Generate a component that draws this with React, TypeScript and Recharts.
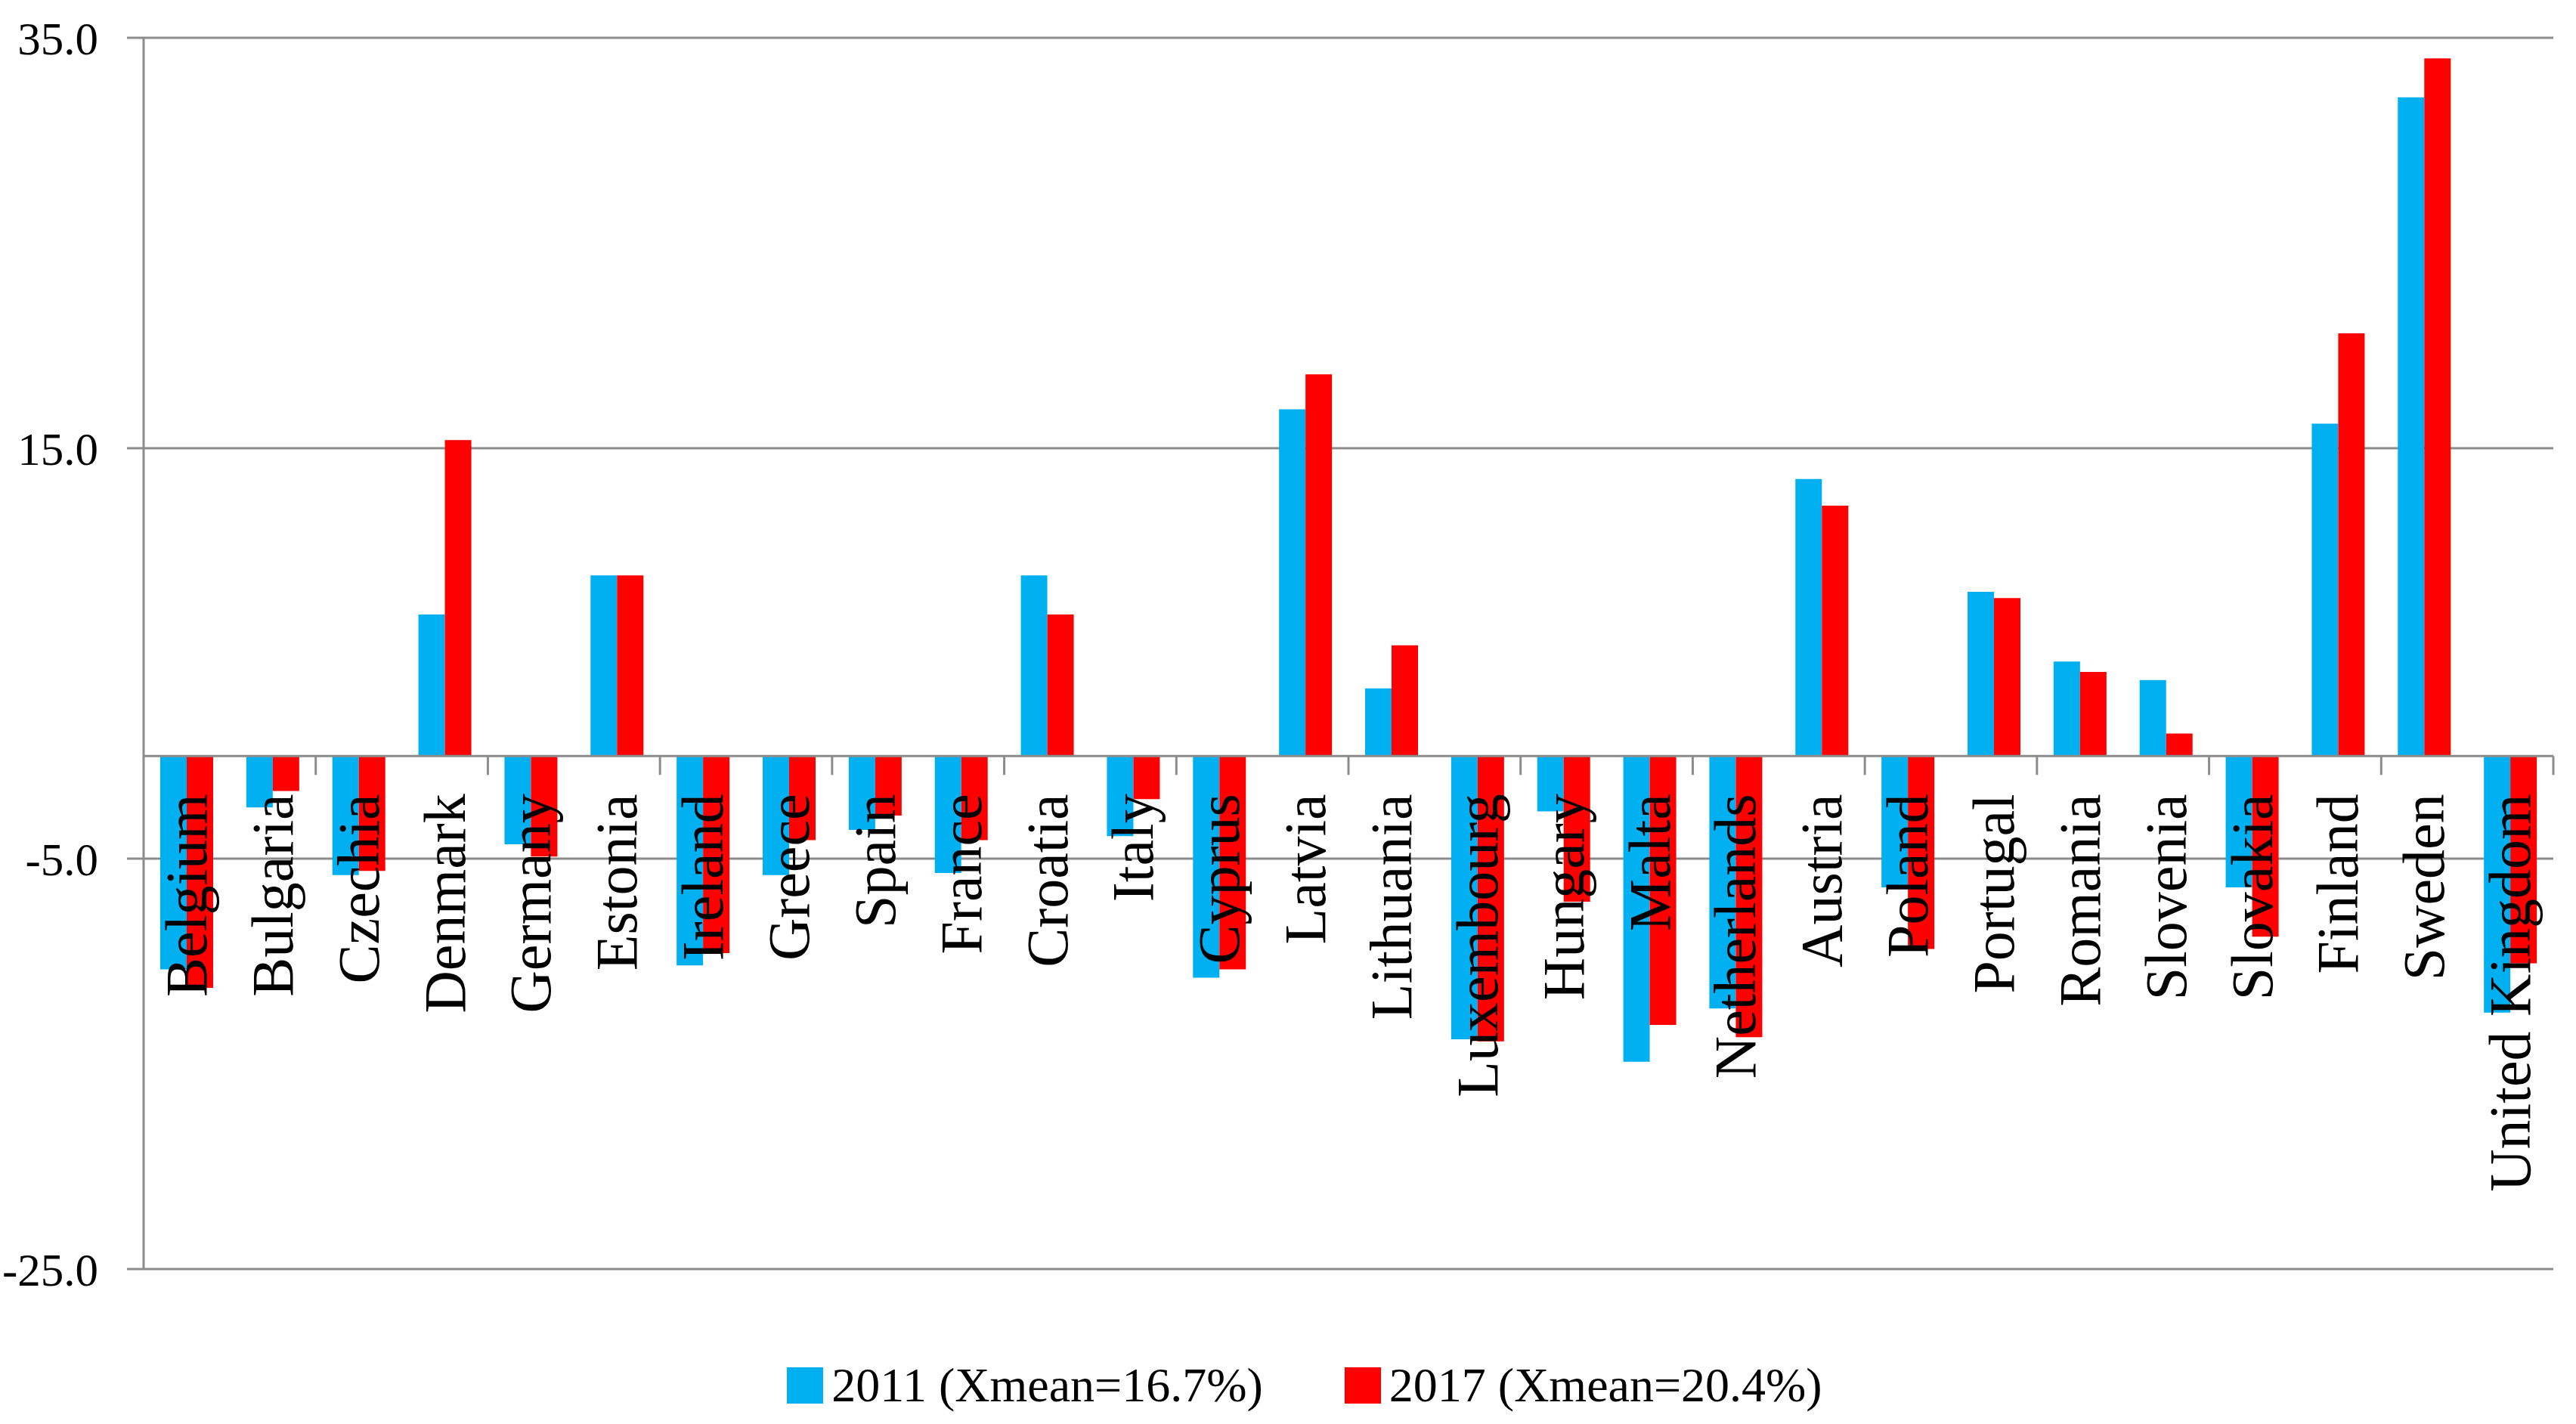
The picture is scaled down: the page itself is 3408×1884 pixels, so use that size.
import { Bar, BarChart, CartesianGrid, Legend, ReferenceLine, XAxis, YAxis } from 'recharts'

// Countries on the category axis
const countries = [
  'Belgium', 'Bulgaria', 'Czechia', 'Denmark', 'Germany', 'Estonia', 'Ireland',
  'Greece', 'Spain', 'France', 'Croatia', 'Italy', 'Cyprus', 'Latvia',
  'Lithuania', 'Luxembourg', 'Hungary', 'Malta', 'Netherlands', 'Austria',
  'Poland', 'Portugal', 'Romania', 'Slovenia', 'Slovakia', 'Finland', 'Sweden',
  'United Kingdom',
]

// Deviation from mean
const values2011 = [
  -10.4, -2.5, -5.8, 6.9, -4.3, 8.8, -10.2, -5.8, -3.6, -5.7, 8.8, -3.9, -10.8, 16.9,
  3.3, -13.8, -2.7, -14.9, -12.3, 13.5, -6.4, 8.0, 4.6, 3.7, -6.4, 16.2, 32.1, -12.5,
]
const values2017 = [
  -11.3, -1.7, -5.6, 15.4, -4.9, 8.8, -9.6, -4.1, -2.9, -4.1, 6.9, -2.1, -10.4, 18.6,
  5.4, -13.9, -7.1, -13.1, -13.7, 12.2, -9.4, 7.7, 4.1, 1.1, -8.8, 20.6, 34.0, -10.1,
]

const yTicks = [-25, -5, 15, 35]
const seriesNames = ['2011 (Xmean=16.7%)', '2017 (Xmean=20.4%)']
const COLORS = ['#00B0F0', '#FF0000']

const data = countries.map((country, i) => ({
  country,
  v2011: values2011[i],
  v2017: values2017[i],
}))

const FONT = '"Liberation Serif", "Times New Roman", serif'
const GRID = '#8c8c8c'
const W = 3408
const H = 1884
const M = { top: 50, right: 30, left: 0, bottom: 100 }
const Y_AXIS_W = 190
const PLOT_H = 1629
const PLOT_W = W - M.right - Y_AXIS_W
const Y_MIN = -25
const Y_MAX = 35

// category labels sit under the zero line, rotated, with a tick mark every 2 categories
function CountryTick(props: any) {
  const { x, payload, index } = props
  const zeroY = M.top + (Y_MAX / (Y_MAX - Y_MIN)) * PLOT_H
  const band = PLOT_W / countries.length
  return (
    <g>
      {index % 2 === 1 && (
        <line
          x1={x + band / 2}
          x2={x + band / 2}
          y1={zeroY}
          y2={zeroY + 25}
          stroke={GRID}
          strokeWidth={3}
        />
      )}
      <text
        x={x + 26}
        y={zeroY + 50}
        transform={`rotate(-90, ${x + 26}, ${zeroY + 50})`}
        textAnchor='end'
        fontSize={78}
        fontFamily={FONT}
        fill='#000'
      >
        {payload.value}
      </text>
    </g>
  )
}

function LegendBox() {
  return (
    <div
      style={{
        display: 'flex',
        justifyContent: 'center',
        alignItems: 'center',
        height: '100%',
        paddingLeft: 44,
        fontFamily: FONT,
        fontSize: 64,
        color: '#000',
      }}
    >
      {seriesNames.map((name, i) => (
        <div key={name} style={{ display: 'flex', alignItems: 'center', marginRight: i === 0 ? 108 : 0 }}>
          <div style={{ width: 48, height: 48, background: COLORS[i], marginRight: 11 }} />
          <span>{name}</span>
        </div>
      ))}
    </div>
  )
}

export default function App() {
  return (
    <div style={{ position: 'absolute', left: 0, top: 0, width: W, height: H, background: '#fff' }}>
      <BarChart width={W} height={H} data={data} margin={M} barGap={0} barSize={35}>
        <CartesianGrid vertical={false} stroke={GRID} strokeWidth={3} />
        <YAxis
          domain={[Y_MIN, Y_MAX]}
          ticks={yTicks}
          allowDataOverflow
          width={Y_AXIS_W}
          tickSize={22}
          tickMargin={38}
          tickFormatter={(v: number) => v.toFixed(1)}
          tick={{ fontSize: 61, fill: '#000', fontFamily: FONT }}
          axisLine={{ stroke: GRID, strokeWidth: 3 }}
          tickLine={{ stroke: GRID, strokeWidth: 3 }}
        />
        <ReferenceLine y={0} stroke={GRID} strokeWidth={3} />
        <Bar dataKey='v2011' name={seriesNames[0]} fill={COLORS[0]} isAnimationActive={false} />
        <Bar dataKey='v2017' name={seriesNames[1]} fill={COLORS[1]} isAnimationActive={false} />
        <XAxis
          dataKey='country'
          interval={0}
          height={10}
          axisLine={false}
          tickLine={false}
          tick={<CountryTick />}
        />
        <Legend
          verticalAlign='bottom'
          content={<LegendBox />}
          wrapperStyle={{ left: 0, bottom: 4, width: W, height: 95 }}
        />
      </BarChart>
    </div>
  )
}
